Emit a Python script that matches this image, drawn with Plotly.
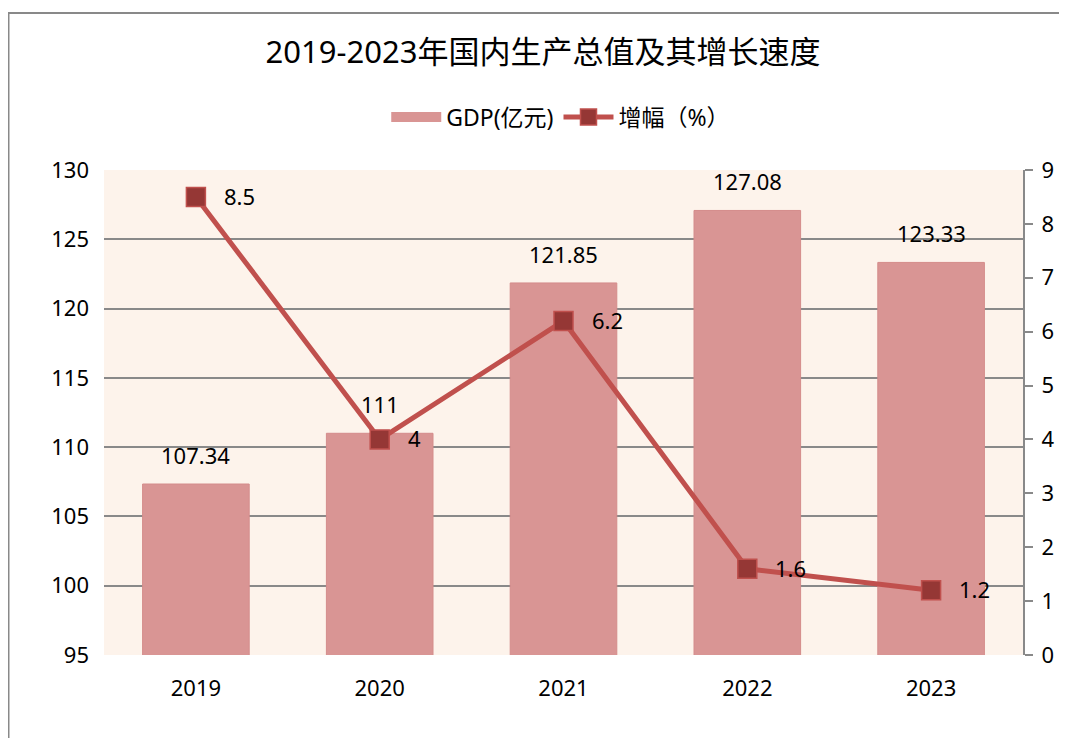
import plotly.graph_objects as go

years = ["2019", "2020", "2021", "2022", "2023"]
gdp = [107.34, 111, 121.85, 127.08, 123.33]
growth = [8.5, 4, 6.2, 1.6, 1.2]
gdp_labels = ["107.34", "111", "121.85", "127.08", "123.33"]
growth_labels = ["8.5", "4", "6.2", "1.6", "1.2"]

FONT = "Noto Sans, Noto Sans CJK SC, sans-serif"
GRID = "#898989"
BAR = "#D99594"

W, H = 1059, 730
L, T = 96, 162
PW, PH = 919, 485

fig = go.Figure()
fig.add_trace(go.Bar(
    x=years, y=gdp, name="GDP(亿元)",
    marker=dict(color=BAR, line=dict(color="#D48C8B", width=1)),
    yaxis="y", showlegend=False,
))
# legend swatch for the bars (wide rectangle like the reference)
fig.add_trace(go.Scatter(
    x=[None], y=[None], name="GDP(亿元)", mode="lines",
    line=dict(color=BAR, width=14), yaxis="y", showlegend=True,
))
fig.add_trace(go.Scatter(
    x=years, y=growth, name="增幅（%）", mode="lines+markers",
    line=dict(color="#C0504D", width=5),
    marker=dict(symbol="square", size=19, color="#953735",
                line=dict(color="#C0504D", width=1.5)),
    yaxis="y2",
))

annotations = []
for i, (v, t) in enumerate(zip(gdp, gdp_labels)):
    annotations.append(dict(x=i, y=v, xref="x", yref="y", text=t,
                            showarrow=False, yshift=29, yanchor="middle",
                            font=dict(size=22, color="#000000", family=FONT)))
for i, (v, t) in enumerate(zip(growth, growth_labels)):
    annotations.append(dict(x=i, y=v, xref="x", yref="y2", text=t,
                            showarrow=False, xshift=26, xanchor="left",
                            yanchor="middle", yshift=1,
                            font=dict(size=22, color="#000000", family=FONT)))

fig.update_layout(
    width=W, height=H,
    margin=dict(l=L, r=W - L - PW, t=T, b=H - T - PH),
    paper_bgcolor="white",
    plot_bgcolor="#FDF3EB",
    font=dict(family=FONT, size=22, color="#000000"),
    title=dict(text="2019-2023年国内生产总值及其增长速度", x=535 / W, xanchor="center",
               y=1 - 44 / H, yanchor="middle",
               font=dict(size=31, family=FONT, color="#000000")),
    legend=dict(orientation="h", x=0.497, xanchor="center", y=1.109, yanchor="middle",
                font=dict(size=23, family=FONT), bgcolor="rgba(0,0,0,0)",
                itemwidth=50, tracegroupgap=0),
    bargap=0.42,
    showlegend=True,
    xaxis=dict(type="category", range=[-0.5, len(years) - 0.5], autorange=False,
               showgrid=False, showline=False, ticks="",
               ticklabelstandoff=18, tickfont=dict(size=22)),
    yaxis=dict(range=[95, 130], dtick=5, tick0=95, showgrid=True, gridcolor=GRID,
               gridwidth=2, zeroline=False, showline=False, ticks="",
               ticklabelstandoff=14, tickfont=dict(size=22)),
    yaxis2=dict(range=[0, 9], dtick=1, overlaying="y", side="right", showgrid=False,
                zeroline=False, showline=True, linecolor=GRID, linewidth=2,
                ticks="outside", ticklen=8, tickcolor=GRID, tickwidth=2,
                ticklabelstandoff=4, tickfont=dict(size=22)),
    annotations=annotations,
    shapes=[dict(type="rect", xref="paper", yref="paper",
                 x0=(0.5 - L) / PW, x1=1.2, y0=-0.3, y1=(655 - 13) / PH,
                 line=dict(color=GRID, width=2), fillcolor="rgba(0,0,0,0)",
                 layer="below")],
)

fig.write_html("out.html")
